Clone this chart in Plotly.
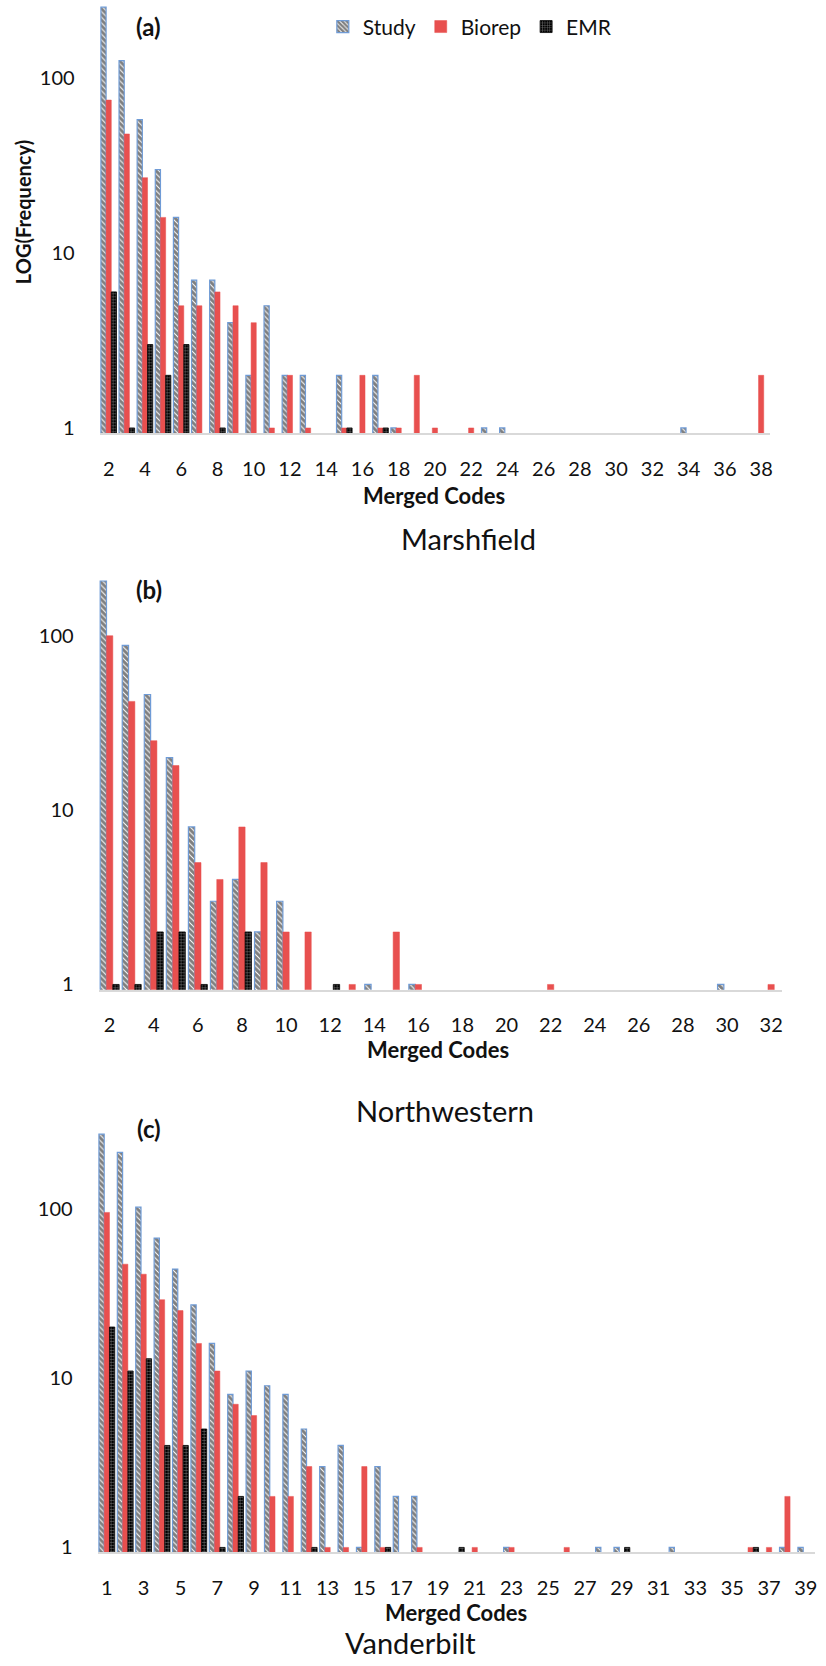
import plotly.graph_objects as go

# ---------------- data ----------------
# (a) Marshfield
codes_a = list(range(2, 39))
study_a = {2: 255, 3: 126, 4: 58, 5: 30, 6: 16, 7: 7, 8: 7, 9: 4, 10: 2, 11: 5, 12: 2, 13: 2,
           15: 2, 17: 2, 18: 1, 23: 1, 24: 1, 34: 1}
biorep_a = {2: 75, 3: 48, 4: 27, 5: 16, 6: 5, 7: 5, 8: 6, 9: 5, 10: 4, 11: 1, 12: 2, 13: 1,
            15: 1, 16: 2, 17: 1, 18: 1, 19: 2, 20: 1, 22: 1, 38: 2}
emr_a = {2: 6, 3: 1, 4: 3, 5: 2, 6: 3, 8: 1, 15: 1, 17: 1}
ticks_a = list(range(2, 39, 2))

# (b) Northwestern
codes_b = list(range(2, 33))
study_b = {2: 206, 3: 88, 4: 46, 5: 20, 6: 8, 7: 3, 8: 4, 9: 2, 10: 3, 14: 1, 16: 1, 30: 1}
biorep_b = {2: 100, 3: 42, 4: 25, 5: 18, 6: 5, 7: 4, 8: 8, 9: 5, 10: 2, 11: 2, 13: 1, 15: 2,
            16: 1, 22: 1, 32: 1}
emr_b = {2: 1, 3: 1, 4: 2, 5: 2, 6: 1, 8: 2, 12: 1}
ticks_b = list(range(2, 33, 2))

# (c) Vanderbilt
codes_c = list(range(1, 40))
study_c = {1: 275, 2: 215, 3: 102, 4: 67, 5: 44, 6: 27, 7: 16, 8: 8, 9: 11, 10: 9, 11: 8,
           12: 5, 13: 3, 14: 4, 15: 1, 16: 3, 17: 2, 18: 2, 23: 1, 28: 1, 29: 1, 32: 1,
           38: 1, 39: 1}
biorep_c = {1: 95, 2: 47, 3: 41, 4: 29, 5: 25, 6: 16, 7: 11, 8: 7, 9: 6, 10: 2, 11: 2,
            12: 3, 13: 1, 14: 1, 15: 3, 16: 1, 18: 1, 21: 1, 23: 1, 26: 1, 36: 1, 37: 1, 38: 2}
emr_c = {1: 20, 2: 11, 3: 13, 4: 4, 5: 4, 6: 5, 7: 1, 8: 2, 12: 1, 16: 1, 20: 1, 29: 1, 36: 1}
ticks_c = list(range(1, 40, 2))

series_names = ["Study", "Biorep", "EMR"]
site_names = ["Marshfield", "Northwestern", "Vanderbilt"]
panel_labels = ["(a)", "(b)", "(c)"]

# ---------------- layout helpers ----------------
W, H = 826, 1666
FONT = "Lato, 'Open Sans', sans-serif"
BLUE = "#6f9bd6"
RED = "#e8504f"
TXT = "#111111"


def px_y(p):
    return 1 - p / H


def px_x(p):
    return p / W


panels = [
    dict(codes=codes_a, s=study_a, b=biorep_a, e=emr_a, ticks=ticks_a,
         x0=100, x1=773, y1=429.5, dec=175.5, rmax=2.44),
    dict(codes=codes_b, s=study_b, b=biorep_b, e=emr_b, ticks=ticks_b,
         x0=99, x1=785, y1=988, dec=175, rmax=2.45),
    dict(codes=codes_c, s=study_c, b=biorep_c, e=emr_c, ticks=ticks_c,
         x0=98, x1=818, y1=1553, dec=170, rmax=2.5),
]
RMIN = -0.03

fig = go.Figure()
layout = dict(
    width=W, height=H, margin=dict(l=0, r=0, t=0, b=0),
    paper_bgcolor="white", plot_bgcolor="white",
    barmode="group", bargap=0.14, bargroupgap=0,
    font=dict(family=FONT, size=20, color=TXT),
    showlegend=True,
    legend=dict(orientation="h", x=px_x(324), xanchor="left", y=px_y(27), yanchor="middle",
                font=dict(size=21, family=FONT, color=TXT), bgcolor="rgba(0,0,0,0)",
                itemwidth=30, tracegroupgap=0),
)
annotations = []

for i, p in enumerate(panels):
    xa = "x" if i == 0 else f"x{i+1}"
    ya = "y" if i == 0 else f"y{i+1}"
    codes = p["codes"]
    vals = [
        [p["s"].get(c) for c in codes],
        [p["b"].get(c) for c in codes],
        [p["e"].get(c) for c in codes],
    ]
    styles = [
        dict(color="white", line=dict(color=BLUE, width=1.2),
             pattern=dict(shape="\\", fgcolor="black", bgcolor="white", size=4, solidity=0.75)),
        dict(color=RED, line=dict(color=RED, width=0.5)),
        dict(color="black", line=dict(color="black", width=0.8),
             pattern=dict(shape="+", fgcolor="white", bgcolor="black", size=3, solidity=0.3)),
    ]
    for k in range(3):
        fig.add_trace(go.Bar(
            x=codes, y=vals[k], name=series_names[k], marker=styles[k],
            xaxis=xa, yaxis=ya, legendgroup=series_names[k], showlegend=(i == 0),
        ))
    top_px = p["y1"] - p["rmax"] * p["dec"]
    bot_px = p["y1"] - RMIN * p["dec"]
    xkey = "xaxis" if i == 0 else f"xaxis{i+1}"
    ykey = "yaxis" if i == 0 else f"yaxis{i+1}"
    layout[xkey] = dict(
        domain=[px_x(p["x0"]), px_x(p["x1"])], anchor=ya,
        range=[codes[0] - 0.5, codes[-1] + 0.5],
        tickmode="array", tickvals=p["ticks"], ticktext=[str(t) for t in p["ticks"]],
        showgrid=False, zeroline=False, showline=True, linecolor="#d9d9d9", linewidth=1.5,
        ticks="", ticklabelstandoff=17, ticklabeloverflow="allow",
        tickfont=dict(size=20, family=FONT, color=TXT),
    )
    layout[ykey] = dict(
        domain=[px_y(bot_px), px_y(top_px)], anchor=xa, type="log",
        range=[RMIN, p["rmax"]],
        tickmode="array", tickvals=[1, 10, 100], ticktext=["1", "10", "100"],
        showgrid=False, zeroline=False, showline=False, ticks="",
        ticklabelstandoff=24, tickfont=dict(size=20, family=FONT, color=TXT),
    )

for lab, (x, y) in zip(panel_labels, [(149, 27), (150, 592), (150, 1133)]):
    annotations.append(dict(text=f"<b>{lab}</b>", x=px_x(x), y=px_y(y), xref="paper", yref="paper",
                            showarrow=False, xanchor="center", yanchor="middle",
                            font=dict(size=24, family=FONT, color=TXT)))
for (x, y) in [(436, 497), (440, 1053), (458, 1618)]:
    annotations.append(dict(text="<b>Merged Codes</b>", x=px_x(x), y=px_y(y), xref="paper", yref="paper",
                            showarrow=False, xanchor="center", yanchor="middle",
                            font=dict(size=22, family=FONT, color=TXT)))
for name, (x, y) in zip(site_names, [(470, 540), (447, 1115), (412, 1648)]):
    annotations.append(dict(text=name, x=px_x(x), y=px_y(y), xref="paper", yref="paper",
                            showarrow=False, xanchor="center", yanchor="middle",
                            font=dict(size=29, family=FONT, color=TXT)))
annotations.append(dict(text="<b>LOG(Frequency)</b>", x=px_x(23), y=px_y(213), xref="paper", yref="paper",
                        showarrow=False, textangle=-90, xanchor="center", yanchor="middle",
                        font=dict(size=20, family=FONT, color=TXT)))

layout["annotations"] = annotations
fig.update_layout(**layout)
fig.write_html("out.html", config={"displayModeBar": False},
               post_script="document.body.style.margin='0';document.body.style.overflow='hidden';")
